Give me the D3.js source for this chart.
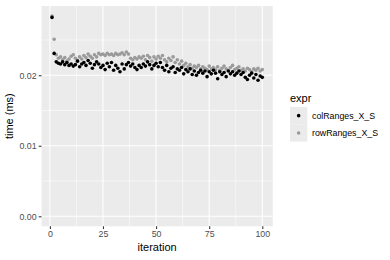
<!DOCTYPE html>
<html><head><meta charset="utf-8">
<script src="https://cdn.jsdelivr.net/npm/d3@7"></script>
<style>body{margin:0;background:#fff}svg{display:block}text{font-family:"Liberation Sans",Arial,sans-serif}</style>
</head><body><svg id="c" width="390" height="260"></svg>
<script>
const seriesNames = ["colRanges_X_S", "rowRanges_X_S"];
const seriesColors = ["#000000", "#9a9a9a"];
const colRanges = [0.0282,0.0231,0.0219,0.0217,0.0216,0.0219,0.0215,0.0218,0.0214,0.0216,
0.0213,0.0215,0.0220,0.0212,0.0216,0.0218,0.0214,0.0221,0.0217,0.0210,
0.0215,0.0219,0.0216,0.0211,0.0214,0.0208,0.0217,0.0212,0.0218,0.0207,
0.0214,0.0210,0.0205,0.0216,0.0209,0.0215,0.0218,0.0213,0.0216,0.0211,
0.0208,0.0214,0.0211,0.0216,0.0213,0.0219,0.0215,0.0209,0.0214,0.0217,
0.0212,0.0218,0.0211,0.0207,0.0214,0.0205,0.0210,0.0212,0.0204,0.0209,
0.0207,0.0211,0.0202,0.0208,0.0205,0.0209,0.0201,0.0206,0.0200,0.0204,
0.0207,0.0203,0.0206,0.0198,0.0205,0.0202,0.0207,0.0203,0.0195,0.0205,
0.0201,0.0204,0.0198,0.0206,0.0202,0.0205,0.0200,0.0203,0.0206,0.0201,
0.0204,0.0197,0.0194,0.0200,0.0203,0.0196,0.0201,0.0193,0.0199,0.0197];
const rowRanges = [0.0284,0.0251,0.0229,0.0224,0.0226,0.0222,0.0225,0.0220,0.0223,0.0227,
0.0229,0.0224,0.0221,0.0226,0.0223,0.0228,0.0225,0.0230,0.0227,0.0224,
0.0229,0.0226,0.0231,0.0229,0.0230,0.0228,0.0231,0.0229,0.0230,0.0228,
0.0231,0.0229,0.0230,0.0232,0.0229,0.0233,0.0230,0.0224,0.0222,0.0225,
0.0223,0.0226,0.0224,0.0227,0.0222,0.0228,0.0225,0.0220,0.0226,0.0223,
0.0227,0.0224,0.0228,0.0222,0.0219,0.0224,0.0221,0.0226,0.0218,0.0222,
0.0216,0.0220,0.0214,0.0217,0.0212,0.0215,0.0210,0.0213,0.0211,0.0214,
0.0209,0.0212,0.0210,0.0208,0.0213,0.0209,0.0211,0.0208,0.0212,0.0207,
0.0210,0.0213,0.0209,0.0207,0.0211,0.0214,0.0208,0.0210,0.0212,0.0207,
0.0209,0.0206,0.0210,0.0208,0.0205,0.0209,0.0207,0.0210,0.0206,0.0208];
const xTicks = [0, 25, 50, 75, 100];
const yTicks = [0, 0.01, 0.02];
const yTickLabels = ["0.00", "0.01", "0.02"];

const svg = d3.select("#c");
const P = {l: 41.5, r: 272.8, t: 6, b: 226.3};
const x = d3.scaleLinear().domain([-3.95, 104.95]).range([P.l, P.r]);
const y = d3.scaleLinear().domain([-0.00142, 0.02982]).range([P.b, P.t]);

svg.append("rect").attr("x", P.l).attr("y", P.t).attr("width", P.r - P.l).attr("height", P.b - P.t).attr("fill", "#ebebeb");
const g = svg.append("g");
[12.5, 37.5, 62.5, 87.5].forEach(v => g.append("line").attr("x1", x(v)).attr("x2", x(v)).attr("y1", P.t).attr("y2", P.b).attr("stroke", "#fff").attr("stroke-width", 0.55));
[0.005, 0.015, 0.025].forEach(v => g.append("line").attr("y1", y(v)).attr("y2", y(v)).attr("x1", P.l).attr("x2", P.r).attr("stroke", "#fff").attr("stroke-width", 0.55));
xTicks.forEach(v => g.append("line").attr("x1", x(v)).attr("x2", x(v)).attr("y1", P.t).attr("y2", P.b).attr("stroke", "#fff").attr("stroke-width", 1.07));
yTicks.forEach(v => g.append("line").attr("y1", y(v)).attr("y2", y(v)).attr("x1", P.l).attr("x2", P.r).attr("stroke", "#fff").attr("stroke-width", 1.07));

// axes
const xAxis = svg.append("g").attr("transform", `translate(0,${P.b})`)
  .call(d3.axisBottom(x).tickValues(xTicks).tickSize(2.75).tickPadding(2.2).tickFormat(d3.format("d")));
const yAxis = svg.append("g").attr("transform", `translate(${P.l},0)`)
  .call(d3.axisLeft(y).tickValues(yTicks).tickSize(2.75).tickPadding(2.2).tickFormat((d, i) => yTickLabels[i]));
[xAxis, yAxis].forEach(a => {
  a.select(".domain").remove();
  a.selectAll(".tick line").attr("stroke", "#333").attr("stroke-width", 1.07);
  a.selectAll(".tick text").attr("fill", "#4d4d4d").style("font-size", "8.8px").style("font-family", '"Liberation Sans",Arial,sans-serif');
});

// points
const data = [];
colRanges.forEach((v, i) => data.push({it: i + 1, v, s: 0}));
rowRanges.forEach((v, i) => data.push({it: i + 1, v, s: 1}));
const ordered = data.filter(d => d.s === 1).concat(data.filter(d => d.s === 0));
svg.append("g").selectAll("circle").data(ordered).join("circle")
  .attr("cx", d => x(d.it)).attr("cy", d => y(d.v)).attr("r", 1.8)
  .attr("fill", d => seriesColors[d.s]);

// axis titles
svg.append("text").attr("x", (P.l + P.r) / 2).attr("y", 251).attr("text-anchor", "middle").style("font-size", "11px").attr("fill", "#000").text("iteration");
svg.append("text").attr("transform", `translate(13,${(P.t + P.b) / 2}) rotate(-90)`).attr("text-anchor", "middle").style("font-size", "11px").attr("fill", "#000").text("time (ms)");

// legend
const L = svg.append("g");
L.append("text").attr("x", 290).attr("y", 101.5).style("font-size", "11px").text("expr");
seriesNames.forEach((n, i) => {
  const ky = 107 + i * 17.3;
  L.append("rect").attr("x", 290).attr("y", ky).attr("width", 17.3).attr("height", 17.3).attr("fill", "#ebebeb");
  L.append("circle").attr("cx", 298.65).attr("cy", ky + 8.65).attr("r", 1.8).attr("fill", seriesColors[i]);
  L.append("text").attr("x", 312).attr("y", ky + 8.65).attr("dy", "0.35em").style("font-size", "8.8px").attr("fill", "#000").text(n);
});
</script></body></html>
